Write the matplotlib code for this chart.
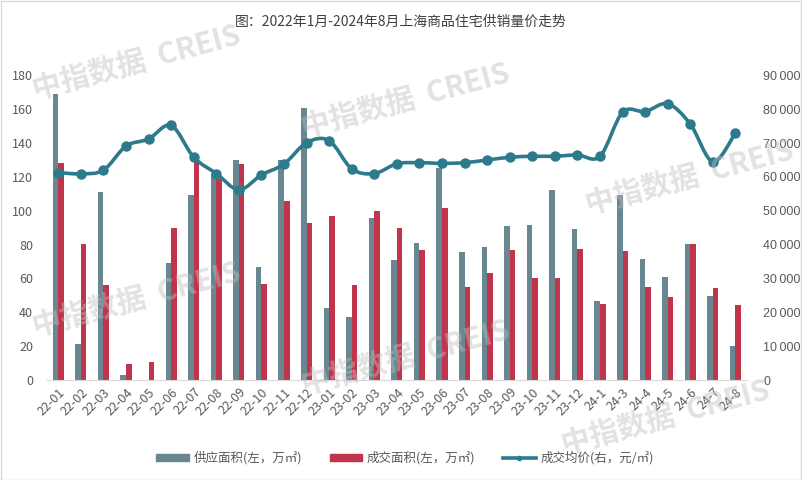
import matplotlib
matplotlib.use("Agg")
import matplotlib.pyplot as plt
from matplotlib.path import Path
from matplotlib.patches import PathPatch
from matplotlib.lines import Line2D
from matplotlib.patches import Patch
import numpy as np

plt.rcParams['font.family'] = ['Noto Sans CJK SC', 'DejaVu Sans']

# data
months = ['22-01', '22-02', '22-03', '22-04', '22-05', '22-06', '22-07', '22-08',
          '22-09', '22-10', '22-11', '22-12', '23-01', '23-02', '23-03', '23-04',
          '23-05', '23-06', '23-07', '23-08', '23-09', '23-10', '23-11', '23-12',
          '24-1', '24-3', '24-4', '24-5', '24-6', '24-7', '24-8']
supply = [169, 21.5, 111, 3, 0, 69, 109.5, 122, 130, 66.5, 130, 161, 42.5, 37.5,
          96, 71, 81, 125.5, 75.5, 78.5, 91, 91.5, 112.5, 89, 46.5, 109.5, 71.5,
          61, 80.5, 49.5, 20]
sales = [128.5, 80.5, 56, 9.3, 10.5, 90, 130, 118.5, 127.5, 57, 105.5, 93, 97,
         56, 100, 90, 77, 101.5, 55, 63, 77, 60, 60, 77.5, 45, 76, 55, 49, 80.5,
         54.5, 44.5]
price = [61300, 60900, 62000, 69100, 71200, 75200, 65800, 61000, 56200, 60600,
         63800, 70100, 70700, 62400, 61000, 63900, 64200, 64000, 64200, 65000,
         65800, 66100, 66100, 66500, 66100, 79100, 79300, 81600, 75600, 64500, 73000]

c_supply = '#688790'
c_sales = '#C0354B'
c_price = '#2C7A8C'
c_text = '#595959'

fig = plt.figure(figsize=(8.02, 4.8), dpi=100)
ax = fig.add_axes([0.0586, 0.2083, 0.8725, 0.6347])
ax2 = ax.twinx()

x = np.arange(len(months))
w = 0.245
ax.bar(x - w / 2, supply, w, color=c_supply, zorder=2)
ax.bar(x + w / 2, sales, w, color=c_sales, zorder=2)

ax.set_xlim(-0.5, len(months) - 0.5)
ax.set_ylim(0, 180)
ax.set_yticks(range(0, 181, 20))
ax2.set_ylim(0, 90000)
ax2.set_yticks(range(0, 90001, 10000))
ax2.set_yticklabels(['0'] + ['%d\u2009000' % (v // 1000) for v in range(10000, 90001, 10000)],
                    fontfamily='Liberation Sans')

ax.set_xticks(x)
ax.set_xticklabels(months, rotation=45, ha='right', rotation_mode='anchor')

# smooth price line (Catmull-Rom -> cubic bezier segments)
pts = np.column_stack([x, np.array(price, dtype=float)])
verts = [tuple(pts[0])]
codes = [Path.MOVETO]
for i in range(len(pts) - 1):
    p0 = pts[i - 1] if i > 0 else pts[i]
    p1 = pts[i]
    p2 = pts[i + 1]
    p3 = pts[i + 2] if i + 2 < len(pts) else pts[i + 1]
    c1 = p1 + (p2 - p0) / 6
    c2 = p2 - (p3 - p1) / 6
    verts += [tuple(c1), tuple(c2), tuple(p2)]
    codes += [Path.CURVE4] * 3
ax2.add_patch(PathPatch(Path(verts, codes), fill=False, edgecolor=c_price, lw=2.6,
                        capstyle='round', joinstyle='round', zorder=3))
ax2.plot(x, price, 'o', color=c_price, ms=6.5, zorder=4)

for a in (ax, ax2):
    for s in a.spines.values():
        s.set_visible(False)
    a.tick_params(length=0, colors=c_text, labelsize=9)
ax.spines['bottom'].set_visible(True)
ax.spines['bottom'].set_color('#d9d9d9')
ax.tick_params(axis='x', pad=4)
ax.tick_params(axis='y', pad=10)
ax2.tick_params(axis='y', pad=12)

fig.text(0.5, 0.954, '图：2022年1月-2024年8月上海商品住宅供销量价走势',
         ha='center', va='center', fontsize=10, color='#404040')

handles = [Patch(color=c_supply), Patch(color=c_sales),
           Line2D([], [], color=c_price, lw=2.6, marker='o', ms=3)]
labels = ['供应面积(左，万㎡)', '成交面积(左，万㎡)', '成交均价(右，元/㎡)']
fig.legend(handles, labels, loc='center', bbox_to_anchor=(0.505, 0.046), ncol=3,
           frameon=False, fontsize=9, labelcolor=c_text, handlelength=2.6,
           handleheight=0.45, columnspacing=2.2, handletextpad=0.4)

# watermarks
for wx, wy in [(0.17, 0.87), (0.505, 0.79), (0.17, 0.375), (0.505, 0.255), (0.83, 0.13), (0.86, 0.63)]:
    fig.text(wx, wy, '中指数据  CREIS', fontsize=21, fontweight='bold', color='#bfbfbf',
             alpha=0.45, rotation=15, ha='center', va='center', zorder=0)

fig.patches.append(plt.Rectangle((0.001, 0.001), 0.998, 0.997, transform=fig.transFigure,
                                 fill=False, edgecolor='#d9d9d9', lw=1))

fig.savefig('out.png', dpi=100)
